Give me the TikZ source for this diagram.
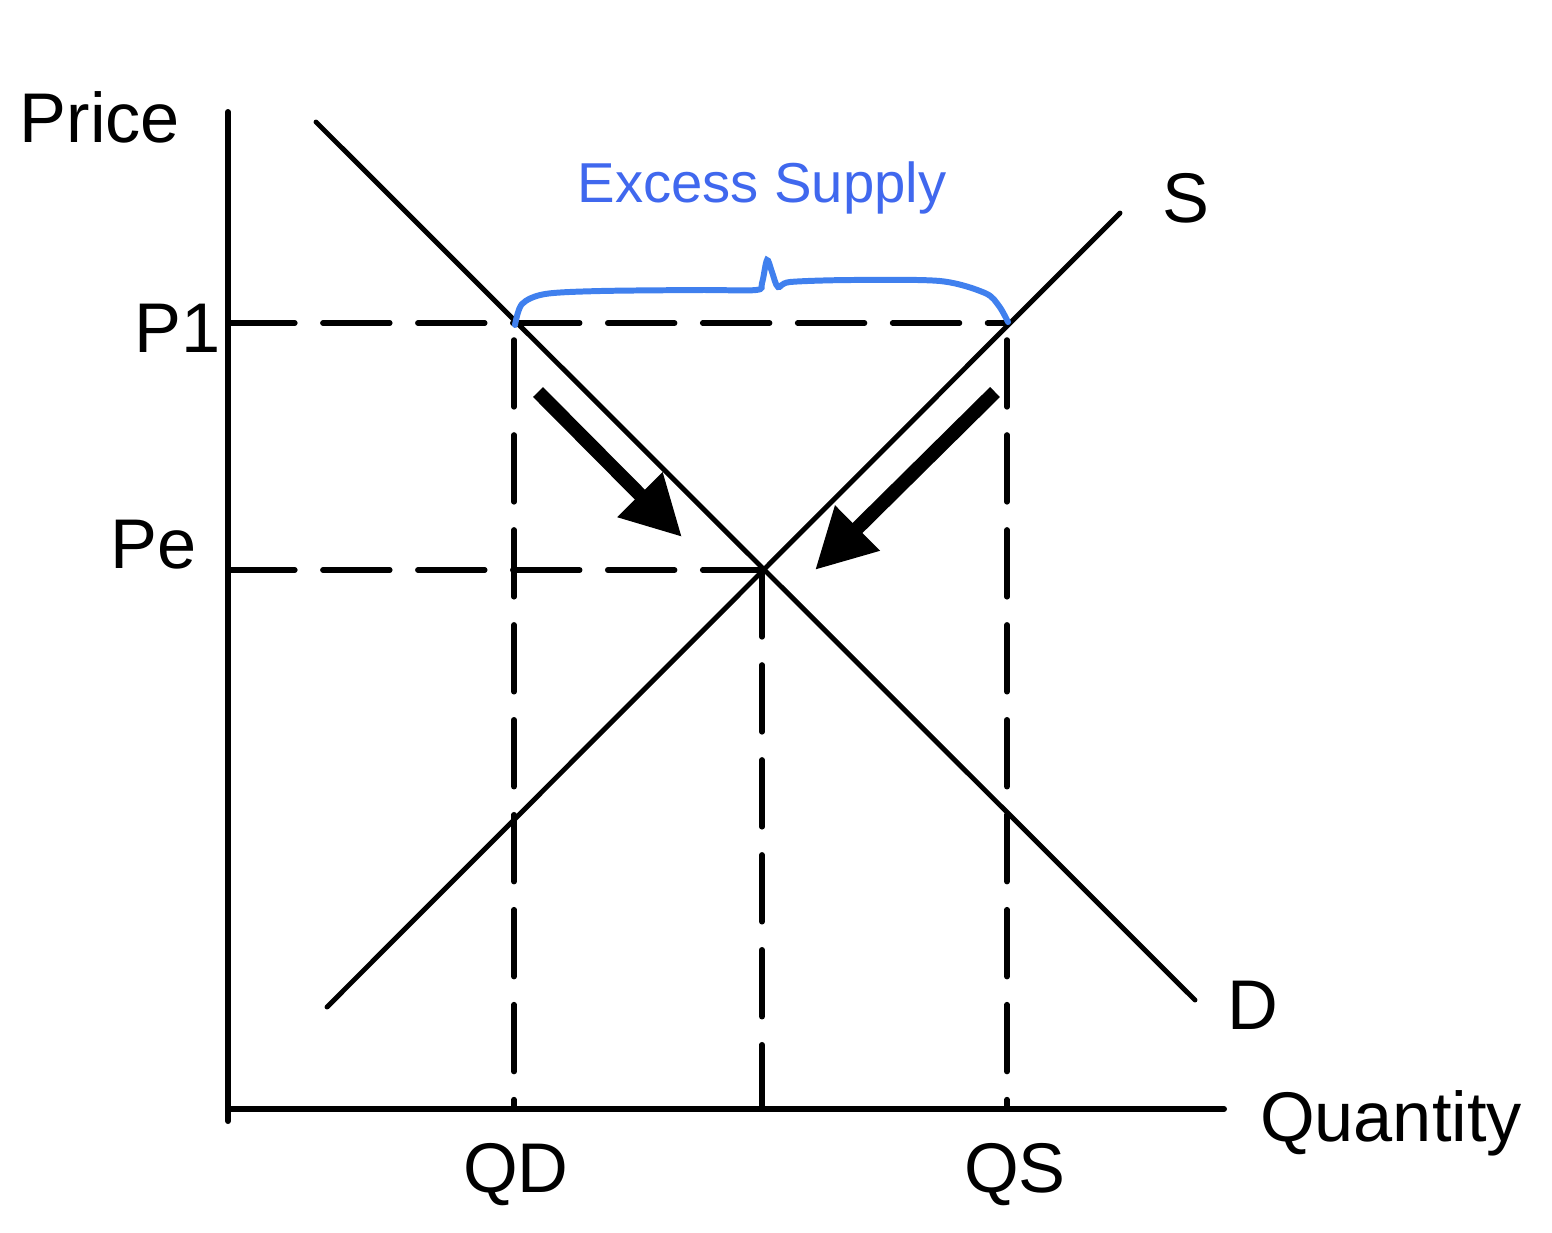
\documentclass[tikz,border=0pt]{standalone}
\usepackage{fontspec}
\setmainfont{Liberation Sans}
\usetikzlibrary{arrows.meta}

\begin{document}
\begin{tikzpicture}[x=0.01cm,y=-0.01cm,
	axis/.style={line width=1.7pt,line cap=round},
	curve/.style={line width=1.4pt,line cap=round},
	guide/.style={line width=1.6pt,line cap=round,dash pattern=on 19pt off 8pt},
	move/.style={line width=4pt,-{Triangle[length=17pt,width=17pt]}},
	lbl/.style={font=\fontsize{20}{20}\selectfont}]
					\useasboundingbox (0,0) rectangle (1552,1232);
					% axes
					\coordinate (ytop) at (228,112);
					\coordinate (origin) at (228,1109);
					\coordinate (ybot) at (228,1121);
					\coordinate (xend) at (1224,1109);
					\draw[axis] (ytop) -- (ybot);
					\draw[axis] (origin) -- (xend);
					
					% demand and supply
					\coordinate (d1) at (316,122);
					\coordinate (d2) at (1195,1000);
					\coordinate (s1) at (327,1007);
					\coordinate (s2) at (1120,213);
					\draw[curve] (d1) -- (d2);
					\draw[curve] (s1) -- (s2);
					
					% guide lines
					\coordinate (p1) at (228,323);
					\coordinate (pe) at (228,570);
					\coordinate (a) at (514,323);
					\coordinate (b) at (1007,323);
					\coordinate (eq) at (762,570);
					\coordinate (qd) at (514,1109);
					\coordinate (qe) at (762,1109);
					\coordinate (qs) at (1007,1109);
					\draw[guide] (p1) -- (b);
					\draw[guide] (pe) -- (eq);
					\draw[guide] (514,340) -- (qd);
					\draw[guide] (eq) -- (qe);
					\draw[guide] (1007,340) -- (qs);
					
					% arrows towards equilibrium
					\coordinate (l1) at (538,392);
					\coordinate (l2) at (682,537);
					\coordinate (r1) at (995,392);
					\coordinate (r2) at (815,570);
					\draw[move] (l1) -- (l2);
					\draw[move] (r1) -- (r2);
					
					% brace
					\draw[color={rgb,255:red,64;green,128;blue,238},line width=1.7pt,line cap=round]
						plot[smooth,tension=0.5] coordinates {(515,325) (522,304) (545,294) (600,291) (700,290) (756,290) (762,283) (767,260) (772,272) (778,287) (790,282) (850,280) (940,281) (985,293) (999,306) (1008,322)};
					
					% labels
					\path (100,117) node[lbl] (price) {Price};
					\path (178,328) node[lbl] (lp1) {P1};
					\path (154,545) node[lbl] (lpe) {Pe};
					\path (1186,198) node[lbl] (ls) {S};
					\path (1253,1005) node[lbl] (ld) {D};
					\path (1391,1123) node[lbl] (lq) {Quantity};
					\path (516,1175) node[lbl] (lqd) {QD};
					\path (1015,1175) node[lbl] (lqs) {QS};
					\path (762,188) node[font=\fontsize{16}{16}\selectfont,text={rgb,255:red,64;green,104;blue,238}] (ex) {Excess Supply};
					\end{tikzpicture}
\end{document}
